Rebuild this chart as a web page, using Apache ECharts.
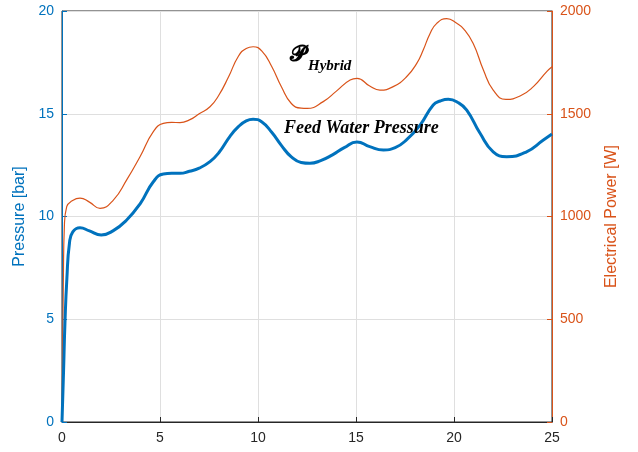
<!DOCTYPE html>
<html>
<head>
<meta charset="utf-8">
<script src="https://cdn.jsdelivr.net/npm/echarts@6/dist/echarts.min.js"></script>
<style>
  html, body { margin: 0; padding: 0; background: #fff; }
  #chart { width: 638px; height: 452px; }
</style>
</head>
<body>
<div id="chart"></div>
<script>
// time axis (x)
const pressureX = [0, 0.08, 0.15, 0.25, 0.38, 0.55, 0.92, 1.4, 2.0, 2.6, 3.3, 4.0, 4.66, 5.17, 5.6, 6.02, 6.5,
  7.0, 7.55, 8.0, 8.57, 9.0, 9.4, 9.75, 10.2, 10.7, 11.2, 11.7, 12.2, 12.65, 13.2, 13.8, 14.4, 15.05, 15.7,
  16.4, 17.0, 17.6, 18.27, 18.94, 19.3, 19.71, 20.2, 20.65, 21.33, 22.0, 22.69, 23.7, 24.56, 25];
const pressure = [0, 2.5, 4.8, 7.0, 8.7, 9.25, 9.45, 9.3, 9.1, 9.3, 9.83, 10.64, 11.69, 12.07, 12.1, 12.1, 12.2,
  12.35, 12.67, 13.1, 13.9, 14.37, 14.65, 14.73, 14.6, 14.1, 13.45, 12.9, 12.63, 12.59, 12.72, 13.0, 13.35, 13.63, 13.4,
  13.24, 13.35, 13.75, 14.45, 15.43, 15.62, 15.7, 15.55, 15.18, 14.05, 13.15, 12.91, 13.15, 13.72, 14.01];

const powerX = [0, 0.03, 0.07, 0.12, 0.24, 0.5, 0.92, 1.4, 1.94, 2.62, 3.3, 3.98, 4.66, 5.17, 5.6, 6.02, 6.5,
  7.0, 7.55, 8.0, 8.5, 9.0, 9.4, 9.75, 10.2, 10.7, 11.2, 11.7, 12.2, 12.5, 13.33, 14.0, 14.7, 15.05, 15.7,
  16.22, 16.9, 17.58, 18.1, 18.43, 18.78, 19.12, 19.63, 20.14, 20.5, 20.98, 21.5, 22.0, 22.65, 23.37, 24.05, 24.73, 25];
const power = [0, 300, 700, 950, 1048, 1075, 1089, 1070, 1040, 1080, 1178, 1291, 1413, 1453, 1458, 1457, 1470,
  1500, 1534, 1590, 1680, 1780, 1818, 1826, 1805, 1730, 1630, 1550, 1527, 1526, 1559, 1610, 1664, 1672, 1635,
  1615, 1632, 1680, 1745, 1810, 1891, 1940, 1963, 1940, 1912, 1842, 1713, 1615, 1570, 1586, 1632, 1705, 1729];

const blue = '#0072BD';
const orange = '#D95319';
const dark = '#262626';
const gridGray = '#dfdfdf';

const chart = echarts.init(document.getElementById('chart'));

chart.setOption({
  animation: false,
  textStyle: {
    fontFamily: 'Liberation Sans, Arial, sans-serif'
  },
  grid: {
    left: 62,
    right: 86,
    top: 11,
    bottom: 30,
    show: true,
    borderColor: dark,
    borderWidth: 1
  },
  xAxis: {
    type: 'value',
    min: 0,
    max: 25,
    interval: 5,
    axisLine: { lineStyle: { color: dark, width: 1 } },
    axisTick: { inside: true, length: 5, lineStyle: { color: dark } },
    axisLabel: { color: dark, fontSize: 14, margin: 9 },
    splitLine: { lineStyle: { color: gridGray, width: 1 } }
  },
  yAxis: [
    {
      type: 'value',
      min: 0,
      max: 20,
      interval: 5,
      name: 'Pressure [bar]',
      nameLocation: 'middle',
      nameGap: 34,
      nameTextStyle: { color: blue, fontSize: 16 },
      axisLine: { show: true, lineStyle: { color: blue, width: 1 } },
      axisTick: { show: true, inside: true, length: 5, lineStyle: { color: blue } },
      axisLabel: { color: blue, fontSize: 14, margin: 8 },
      splitLine: { lineStyle: { color: gridGray, width: 1 } }
    },
    {
      type: 'value',
      min: 0,
      max: 2000,
      interval: 500,
      position: 'right',
      name: 'Electrical Power [W]',
      nameLocation: 'middle',
      nameGap: 52,
      nameTextStyle: { color: orange, fontSize: 16 },
      axisLine: { show: true, lineStyle: { color: orange, width: 1 } },
      axisTick: { show: true, inside: true, length: 5, lineStyle: { color: orange } },
      axisLabel: { color: orange, fontSize: 14, margin: 8, formatter: (v) => String(v) },
      splitLine: { show: false }
    }
  ],
  series: [
    {
      type: 'line',
      yAxisIndex: 1,
      data: powerX.map((x, i) => [x, power[i]]),
      smooth: 0.5,
      showSymbol: false,
      lineStyle: { color: orange, width: 1.2 },
      z: 3
    },
    {
      type: 'line',
      yAxisIndex: 0,
      data: pressureX.map((x, i) => [x, pressure[i]]),
      smooth: 0.5,
      showSymbol: false,
      lineStyle: { color: blue, width: 3 },
      z: 4
    }
  ],
  graphic: [
    {
      type: 'text',
      left: 290,
      top: 44,
      z: 100,
      style: {
        text: '{p|𝓟}{s|Hybrid}',
        rich: {
          p: { fontFamily: 'DejaVu Serif, Liberation Serif, serif', fontSize: 22, fontWeight: 'bold', fill: '#000', lineHeight: 30, verticalAlign: 'top' },
          s: { fontFamily: 'Liberation Serif, serif', fontStyle: 'italic', fontWeight: 'bold', fontSize: 15, fill: '#000', padding: [14, 0, 0, 2] }
        }
      }
    },
    {
      type: 'text',
      left: 284,
      top: 119,
      z: 100,
      style: {
        text: 'Feed Water Pressure',
        fontFamily: 'Liberation Serif, serif',
        fontStyle: 'italic',
        fontWeight: 'bold',
        fontSize: 18,
        fill: '#000'
      }
    }
  ]
});
</script>
</body>
</html>
